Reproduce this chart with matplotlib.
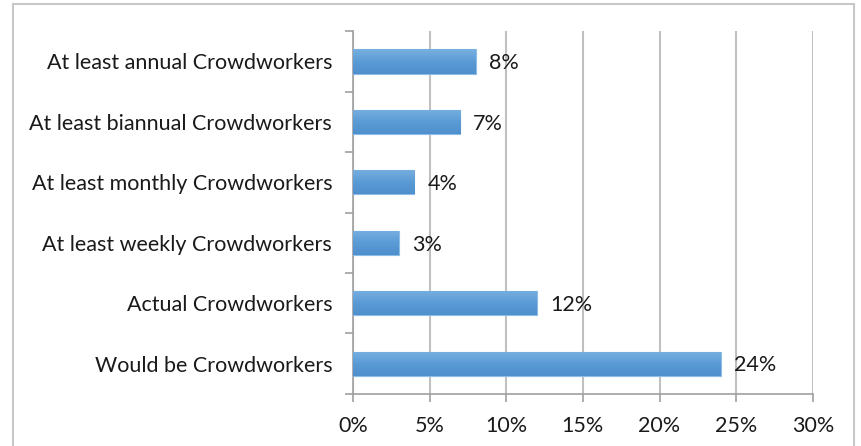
import numpy as np
import matplotlib.pyplot as plt
from matplotlib.patches import Rectangle
from matplotlib.ticker import FixedLocator
from matplotlib.colors import LinearSegmentedColormap

categories = ["Would be Crowdworkers", "Actual Crowdworkers",
              "At least weekly Crowdworkers", "At least monthly Crowdworkers",
              "At least biannual Crowdworkers", "At least annual Crowdworkers"]
values = [24, 12, 3, 4, 7, 8]
xticks = [0, 5, 10, 15, 20, 25, 30]

plt.rcParams["font.family"] = ["Lato", "DejaVu Sans"]

fig = plt.figure(figsize=(8.61, 4.46), dpi=100)
fig.patches.append(Rectangle((0.015, -0.01), 0.977, 1.0, transform=fig.transFigure,
                             fill=False, edgecolor="#c8c8c8", linewidth=1.5))
ax = fig.add_axes([0.41, 0.117, 0.534, 0.813])

# bar gradient, lighter at the top
grad = LinearSegmentedColormap.from_list("bar", ["#4e8fcd", "#5b9bd5", "#78b0e1"])
g = np.linspace(0, 1, 64).reshape(-1, 1)

y = np.arange(len(categories))
bars = ax.barh(y, values, height=0.4, color="#5b9bd5", edgecolor="#8dbde6", linewidth=0.8, zorder=3)
for b in bars:
    x0, y0, w, h = b.get_x(), b.get_y(), b.get_width(), b.get_height()
    im = ax.imshow(g, cmap=grad, aspect="auto", extent=(x0, x0 + w, y0, y0 + h),
                   origin="lower", zorder=3.5)
    im.set_clip_path(b)
for yi, v in zip(y, values):
    ax.text(v + 0.85, yi - 0.03, f"{v}%", va="center", ha="left", fontsize=15.5, color="#1a1a1a")

ax.set_xlim(0, 30)
ax.set_ylim(-0.5, len(categories) - 0.5)
ax.set_xticks(xticks)
ax.set_xticklabels([f"{t}%" for t in xticks], fontsize=15.5, color="#1a1a1a")
ax.set_yticks(y)
ax.set_yticklabels(categories, fontsize=15.5, color="#1a1a1a")
ax.tick_params(axis="y", length=0, pad=15)
ax.yaxis.set_minor_locator(FixedLocator(np.arange(-0.5, len(categories), 1.0)))
ax.tick_params(axis="y", which="minor", length=6, color="#a0a0a0", width=1.2)
ax.tick_params(axis="x", length=6, color="#a0a0a0", width=1.2, pad=10)

ax.grid(axis="x", color="#c0c0c0", linewidth=1.5, zorder=0)
for s in ["top", "right"]:
    ax.spines[s].set_visible(False)
for s in ["left", "bottom"]:
    ax.spines[s].set_color("#a0a0a0")
    ax.spines[s].set_linewidth(1.2)

fig.savefig("out.png", dpi=100)
